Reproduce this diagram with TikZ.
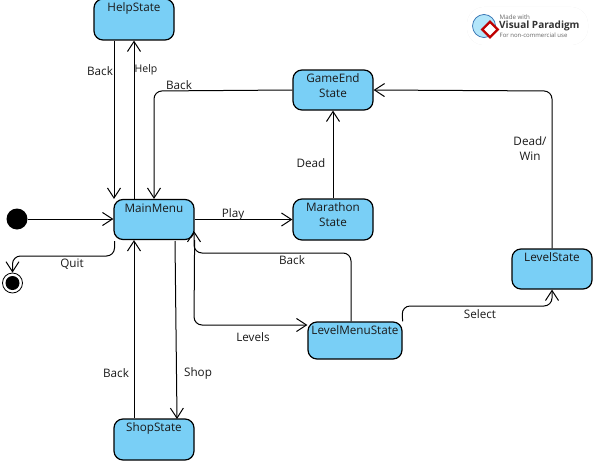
\documentclass[tikz,border=0pt]{standalone}
\usepackage{fontspec}
\setmainfont{Open Sans}
\usetikzlibrary{arrows.meta,shadows}
\definecolor{statefill}{HTML}{79CFF6}
\definecolor{inktext}{HTML}{1A1A1A}
\newcommand{\statetext}[3]{\parbox[c][#2][t]{#1}{\centering\vspace{4pt}#3}}
\tikzset{
  x=1pt,y=-1pt,
  statebox/.style={draw=black,line width=1.2pt,fill=statefill,rounded corners=9pt,inner sep=0pt,text=inktext,font=\fontsize{11.7}{15}\selectfont},
  edge/.style={draw=black,line width=1pt,rounded corners=8pt},
  arr/.style={edge,-{Straight Barb[length=10pt,width=13pt,line width=1pt]}},
  lab/.style={font=\fontsize{11.7}{14.5}\selectfont,text=inktext,inner sep=0pt},
}
\begin{document}
\begin{tikzpicture}
\useasboundingbox (0,0) rectangle (593,460);
\fill[white] (0,0) rectangle (593,460);
% logo
\fill[white,rounded corners=17pt,drop shadow={opacity=0.2,shadow xshift=0pt,shadow yshift=0pt}] (467,7) rectangle (588,45);
\node[circle,draw=black!25!cyan!60!blue,fill=cyan!30,line width=0.7pt,minimum size=23pt,inner sep=0pt] (globe) at (484,26) {};
\node[draw=red!75!black,line width=2.4pt,fill=white,rotate=45,minimum size=11pt,inner sep=0pt] (gem) at (490,29.5) {};
\node[lab,anchor=west,font=\fontsize{6.2}{7}\selectfont,text=black!60] (made) at (499.5,17) {Made with};
\node[lab,anchor=west,font=\bfseries\fontsize{10}{10}\selectfont,text=black!80] (vp) at (499,26) {Visual Paradigm};
\node[lab,anchor=west,font=\fontsize{6}{7}\selectfont,text=black!60] (nc) at (499.5,35) {For non-commercial use};
% states
\node[statebox] (help) at (134,19.5) {\statetext{80pt}{41pt}{HelpState}};
\node[statebox] (main) at (154,219.5) {\statetext{80pt}{40pt}{MainMenu}};
\node[statebox] (gameend) at (333,90) {\statetext{80pt}{40pt}{GameEnd\\State}};
\node[statebox] (marathon) at (333,219.5) {\statetext{80pt}{41pt}{Marathon\\State}};
\node[statebox] (levelmenu) at (355,340.5) {\statetext{94pt}{37pt}{LevelMenuState}};
\node[statebox] (level) at (552,269) {\statetext{80pt}{40pt}{LevelState}};
\node[statebox] (shop) at (154,439.5) {\statetext{80pt}{41pt}{ShopState}};
\node[circle,fill=black,minimum size=21pt,inner sep=0pt] (init) at (17,219) {};
\node[circle,draw=black,line width=0.8pt,fill=white,minimum size=20pt,inner sep=0pt] (final) at (12.5,283) {};
\node[circle,fill=black,minimum size=14pt,inner sep=0pt] (finaldot) at (final.center) {};
% connectors
\draw[arr] (init) -- (main.west |- init);
\draw[arr] ([xshift=-20pt]help.south) -- ([xshift=-40pt]main.north);
\draw[arr] ([xshift=-20pt]main.north) -- ([xshift=0pt]help.south);
\draw[arr] (gameend.west) -- (154,91) -- (main.north);
\draw[arr] (main.east) -- (marathon.west);
\draw[arr] (marathon.north) -- (gameend.south);
\draw[arr] (main.south east) -- (194,325) -- (levelmenu.west |- 0,325);
\draw[arr] ([xshift=-4pt]levelmenu.north) -- (351,253) -- (194,253) -- (194,231);
\draw[arr] (175,241) -- (177,419);
\draw[arr] ([xshift=-20pt]shop.north) -- ([xshift=-20pt]main.south);
\draw[arr] (114.5,241) -- (114.5,256) -- (12.5,256) -- (final.north);
\draw[arr] (levelmenu.north east) -- (402,306) -- (552,306) -- (level.south);
\draw[arr] (level.north) -- (552,91) -- (gameend.east);
% labels
\node[lab] (l1) at (100,71.5) {Back};
\node[lab,font=\fontsize{10.5}{12}\selectfont] (l2) at (146,69.5) {Help};
\node[lab] (l3) at (179,85.5) {Back};
\node[lab] (l4) at (311,163.5) {Dead};
\node[lab,align=center] (l5) at (530,148.5) {Dead/\\Win};
\node[lab] (l6) at (233,214.5) {Play};
\node[lab] (l7) at (72,264.5) {Quit};
\node[lab] (l8) at (292,260.5) {Back};
\node[lab] (l9) at (253,337.5) {Levels};
\node[lab] (l10) at (480,314.5) {Select};
\node[lab] (l11) at (116,373.5) {Back};
\node[lab] (l12) at (198,373.5) {Shop};
\end{tikzpicture}
\end{document}
